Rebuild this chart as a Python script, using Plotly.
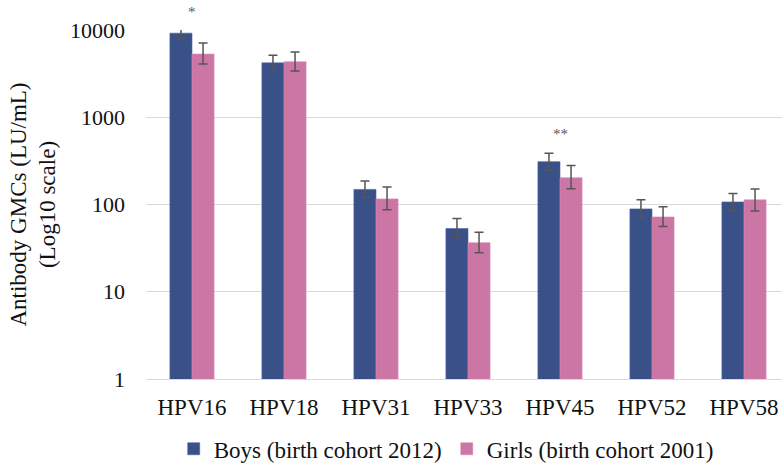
import plotly.graph_objects as go
import math

categories = ["HPV16", "HPV18", "HPV31", "HPV33", "HPV45", "HPV52", "HPV58"]
boys = [9200, 4200, 149, 53, 310, 89, 107]
boys_hi = [10800, 5130, 186, 69, 386, 113, 134]
boys_lo = [7900, 3470, 120, 43, 248, 71, 86]
girls = [5300, 4330, 116, 36.5, 203, 72, 113]
girls_hi = [7100, 5600, 159, 48, 279, 94, 151]
girls_lo = [4080, 3390, 87, 28, 152, 56, 84]
sig_labels = ["*", "", "", "", "**", "", ""]
y_ticks = [1, 10, 100, 1000, 10000]
Y_MAX_EXP = 4

BLUE = "#3A5089"
PINK = "#CC76A6"
ERR = "#555555"
FONT = "Liberation Serif"
TXT = "#111111"

def err(vals, hi, lo):
    return dict(type="data", symmetric=False,
                array=[h - v for v, h in zip(vals, hi)],
                arrayminus=[v - l for v, l in zip(vals, lo)],
                color=ERR, thickness=1.5, width=4.5)

fig = go.Figure()
fig.add_trace(go.Bar(x=categories, y=boys, name="Boys (birth cohort 2012)",
                     marker=dict(color=BLUE, line=dict(color="#4A62A0", width=0.6)),
                     error_y=err(boys, boys_hi, boys_lo), cliponaxis=False))
fig.add_trace(go.Bar(x=categories, y=girls, name="Girls (birth cohort 2001)",
                     marker=dict(color=PINK, line=dict(color="#D98CB6", width=0.6)),
                     error_y=err(girls, girls_hi, girls_lo), cliponaxis=False))

for c, lab, bh, gh in zip(categories, sig_labels, boys_hi, girls_hi):
    if lab:
        top = math.log10(max(bh, gh))
        shift = 9
        if top > Y_MAX_EXP:
            top = Y_MAX_EXP
            shift = 8
        fig.add_annotation(x=c, y=top, text=lab, showarrow=False,
                           yanchor="bottom", yshift=shift,
                           font=dict(family=FONT, size=15, color="#595959"))

fig.update_layout(
    width=782, height=466,
    margin=dict(l=146, r=0, t=30, b=87, autoexpand=False),
    paper_bgcolor="white", plot_bgcolor="white",
    barmode="group", bargap=0.52, bargroupgap=0,
    font=dict(family=FONT, size=23, color=TXT),
    showlegend=True,
    legend=dict(orientation="h", x=0.472, xanchor="center", y=-0.2, yanchor="middle",
                font=dict(family=FONT, size=23, color=TXT),
                itemwidth=30, traceorder="normal"),
)
fig.update_xaxes(type="category", range=[-0.5, 6.413], showgrid=False,
                 showline=True, linecolor="#D9D9D9", linewidth=1.2,
                 ticks="", ticklabelstandoff=7,
                 tickfont=dict(family=FONT, size=23, color=TXT))
fig.update_yaxes(type="log", range=[0, Y_MAX_EXP], tickvals=y_ticks,
                 ticktext=[str(v) for v in y_ticks],
                 showgrid=True, gridcolor="#D9D9D9", gridwidth=1.2,
                 zeroline=False, showline=False, ticks="", ticklabelstandoff=20,
                 tickfont=dict(family=FONT, size=22, color=TXT),
                 title=dict(text="Antibody GMCs (LU/mL)<br>(Log10 scale)",
                            font=dict(family=FONT, size=23, color=TXT),
                            standoff=7))

fig.write_html("out.html", config={"displayModeBar": False},
               post_script="document.body.style.margin='0';document.body.style.overflow='hidden';")
